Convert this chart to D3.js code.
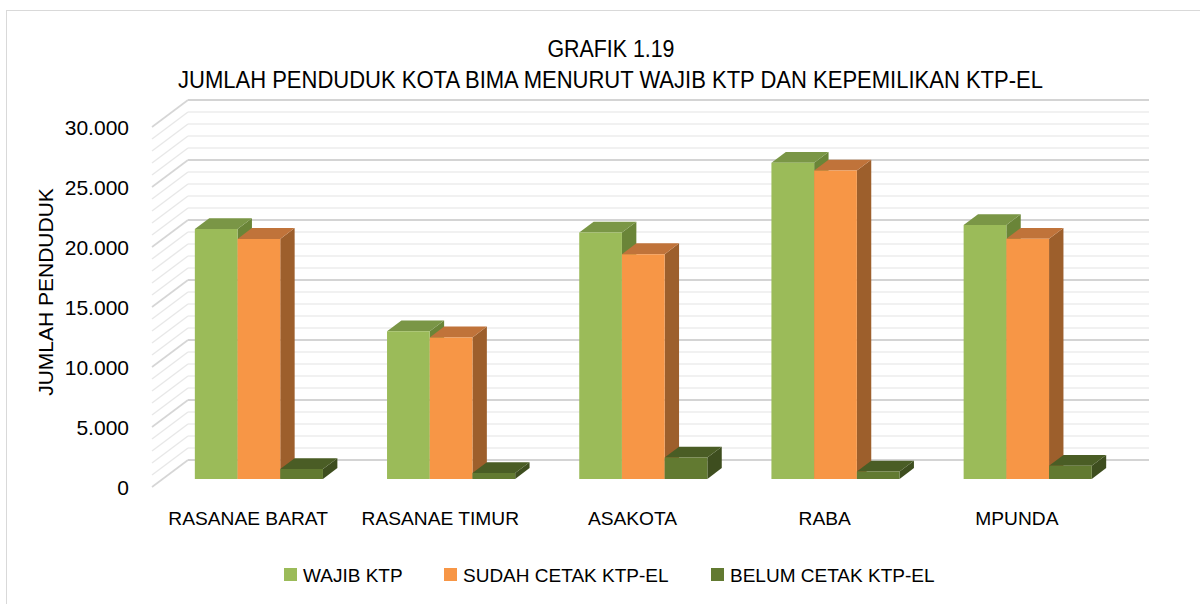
<!DOCTYPE html>
<html>
<head>
<meta charset="utf-8">
<script src="https://cdn.jsdelivr.net/npm/d3@7"></script>
<style>
  html, body { margin: 0; padding: 0; background: #fff; }
  svg { display: block; }
  text { font-family: "Liberation Sans", Arial, sans-serif; fill: #000; }
</style>
</head>
<body>
<svg id="chart" width="1200" height="604"></svg>
<script>
// ---- data ----
const categories = ["RASANAE BARAT", "RASANAE TIMUR", "ASAKOTA", "RABA", "MPUNDA"];
const seriesNames = ["WAJIB KTP", "SUDAH CETAK KTP-EL", "BELUM CETAK KTP-EL"];
const wajibKTP = [20830, 12300, 20530, 26340, 21150];
const sudahCetak = [20000, 11790, 18730, 25690, 20010];
const belumCetak = [830, 490, 1780, 620, 1090];
const yTicks = [0, 5000, 10000, 15000, 20000, 25000, 30000];
const titleLines = ["GRAFIK 1.19", "JUMLAH PENDUDUK KOTA BIMA MENURUT WAJIB KTP DAN KEPEMILIKAN KTP-EL"];
const yTitle = "JUMLAH PENDUDUK";

const seriesValues = [wajibKTP, sudahCetak, belumCetak];
const faceColors = [
  { front: "#9BBB59", top: "#7A9646", side: "#6A8538" },
  { front: "#F79646", top: "#C0733A", side: "#9D5F2C" },
  { front: "#627A31", top: "#4A5D25", side: "#3E4E1F" }
];

const svg = d3.select("#chart");

// outer chart border
svg.append("rect").attr("x", 6.5).attr("y", 10.5).attr("width", 1200).attr("height", 620)
  .attr("fill", "none").attr("stroke", "#d9d9d9").attr("stroke-width", 1);

// ---- 3D geometry ----
const depthDX = -36, depthDY = 27;   // offset from back wall to front plane
const x = d3.scaleBand().domain(categories).range([188, 1149]).paddingInner(0).paddingOuter(0);
const y = d3.scaleLinear().domain([0, 30000]).range([460, 100]);      // back wall
const yFront = d3.scaleLinear().domain([0, 30000]).range([460 + depthDY, 100 + depthDY]);
const proj = (px, py, f) => [px + depthDX * f, py + depthDY * f];

// gridlines (minor every 1000, major every 5000)
const gridVals = d3.range(0, 30001, 1000);
const grid = svg.append("g");
gridVals.forEach(v => {
  const major = v % 5000 === 0;
  const yy = y(v);
  const a = proj(188, yy, 1);
  grid.append("line").attr("x1", a[0]).attr("y1", a[1]).attr("x2", 188).attr("y2", yy)
    .attr("stroke", major ? "#d6d6d6" : "#e8e8e8").attr("stroke-width", major ? 1.6 : 1.4);
  grid.append("line").attr("x1", 188).attr("y1", yy).attr("x2", 1149).attr("y2", yy)
    .attr("stroke", major ? "#d4d4d4" : "#ececec").attr("stroke-width", major ? 2 : 1.6);
});

// bars
const clusterFrac = 3 / 4.5;
const x1 = d3.scaleBand().domain(d3.range(seriesValues.length))
  .range([0, x.bandwidth() * clusterFrac]).padding(0);
const fFront = 0.7, fBack = 0.3;
const bars = svg.append("g");
categories.forEach((c, ci) => {
  const base = x(c) + x.bandwidth() * (1 - clusterFrac) / 2;
  seriesValues.forEach((vals, si) => {
    const v = vals[ci];
    const bx0 = base + x1(si), bx1 = bx0 + x1.bandwidth();
    const yt = y(v), yb = y(0);
    const fl = proj(bx0, yb, fFront), fr = proj(bx1, yb, fFront);
    const tl = proj(bx0, yt, fFront), tr = proj(bx1, yt, fFront);
    const btl = proj(bx0, yt, fBack), btr = proj(bx1, yt, fBack), bbr = proj(bx1, yb, fBack);
    const col = faceColors[si];
    // side
    bars.append("polygon").attr("points", [tr, btr, bbr, fr].map(p => p.join(",")).join(" "))
      .attr("fill", col.side);
    // top
    bars.append("polygon").attr("points", [tl, btl, btr, tr].map(p => p.join(",")).join(" "))
      .attr("fill", col.top);
    // front
    bars.append("polygon").attr("points", [fl, tl, tr, fr].map(p => p.join(",")).join(" "))
      .attr("fill", col.front);
  });
});

// y axis labels (front plane)
const nf = d3.formatLocale({ decimal: ",", thousands: ".", grouping: [3], currency: ["", ""] }).format(",d");
const yAxis = d3.axisLeft(yFront).tickValues(yTicks).tickFormat(nf).tickSize(0).tickPadding(23);
const ga = svg.append("g").attr("transform", "translate(152,1)").call(yAxis);
ga.select(".domain").remove();
ga.selectAll("text").attr("font-family", "Liberation Sans, Arial, sans-serif")
  .attr("font-size", 21).attr("fill", "#000");

// category labels (front plane)
svg.append("g").selectAll("text").data(categories).join("text")
  .attr("x", d => x(d) + x.bandwidth() / 2 + depthDX)
  .attr("y", 525)
  .attr("text-anchor", "middle")
  .attr("font-size", 19.2)
  .text(d => d);

// y axis title
svg.append("text").attr("transform", "translate(53,292) rotate(-90)")
  .attr("text-anchor", "middle").attr("font-size", 21).text(yTitle);

// chart title
svg.append("text").attr("x", 611).attr("y", 56.5).attr("text-anchor", "middle")
  .attr("font-size", 23).attr("textLength", 127).attr("lengthAdjust", "spacingAndGlyphs")
  .text(titleLines[0]);
svg.append("text").attr("x", 610.5).attr("y", 88).attr("text-anchor", "middle")
  .attr("font-size", 24).attr("textLength", 865).attr("lengthAdjust", "spacingAndGlyphs")
  .text(titleLines[1]);

// legend
const legendX = [284, 444, 711];
const lg = svg.append("g");
seriesNames.forEach((n, i) => {
  lg.append("rect").attr("x", legendX[i]).attr("y", 568).attr("width", 13).attr("height", 13)
    .attr("fill", faceColors[i].front);
  lg.append("text").attr("x", legendX[i] + 19).attr("y", 581.5).attr("font-size", 19).text(n);
});
</script>
</body>
</html>
